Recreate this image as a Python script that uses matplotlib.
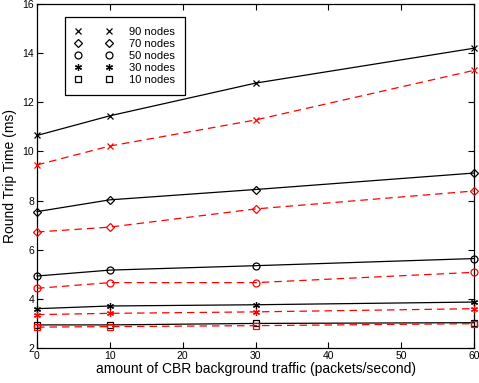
import matplotlib
matplotlib.use('Agg')
import matplotlib.pyplot as plt
from matplotlib.lines import Line2D
from matplotlib.legend_handler import HandlerTuple

plt.rcParams['font.family'] = ['Liberation Sans', 'DejaVu Sans']

traffic = [0, 10, 30, 60]

# black solid series
black_90 = [10.65, 11.45, 12.78, 14.2]
black_70 = [7.55, 8.03, 8.45, 9.12]
black_50 = [4.93, 5.17, 5.35, 5.64]
black_30 = [3.6, 3.71, 3.76, 3.87]
black_10 = [2.94, 2.94, 3.0, 3.03]

# red dashed series
red_90 = [9.45, 10.22, 11.28, 13.3]
red_70 = [6.72, 6.92, 7.66, 8.39]
red_50 = [4.43, 4.66, 4.66, 5.08]
red_30 = [3.36, 3.41, 3.47, 3.6]
red_10 = [2.85, 2.87, 2.91, 2.99]

labels = ['90 nodes', '70 nodes', '50 nodes', '30 nodes', '10 nodes']
markers = ['x', 'D', 'o', (6, 2, 0), 's']
msizes = [3.8, 4, 5, 5, 4]
black_series = [black_90, black_70, black_50, black_30, black_10]
red_series = [red_90, red_70, red_50, red_30, red_10]

fig = plt.figure(figsize=(4.79, 3.83), dpi=100)
ax = fig.add_axes([37 / 479, 35 / 383, 437 / 479, 344 / 383])

for ys, m, ms in zip(black_series, markers, msizes):
    ax.plot(traffic, ys, color='black', linestyle='-', linewidth=0.9,
            marker=m, markersize=ms, markerfacecolor='none', markeredgewidth=0.9,
            clip_on=False, zorder=3)
for ys, m, ms in zip(red_series, markers, msizes):
    ax.plot(traffic, ys, color='red', linestyle=(0, (6, 4)), linewidth=0.9,
            marker=m, markersize=ms, markerfacecolor='none', markeredgewidth=0.9,
            clip_on=False, zorder=3)

ax.set_xlim(0, 60)
ax.set_ylim(2, 16)
ax.set_xticks(range(0, 61, 10))
ax.set_yticks(range(2, 17, 2))
ax.tick_params(direction='in', top=True, right=True, labelsize=7.5, length=4, pad=2)
for s in ax.spines.values():
    s.set_linewidth(0.9)

ax.set_xlabel('amount of CBR background traffic (packets/second)', fontsize=10, labelpad=1)
ax.set_ylabel('Round Trip Time (ms)', fontsize=10, labelpad=4)

handles = []
for m, ms in zip(markers, msizes):
    h1 = Line2D([], [], color='black', linestyle='none', marker=m, markersize=ms,
                markerfacecolor='none', markeredgewidth=0.9)
    h2 = Line2D([], [], color='black', linestyle='none', marker=m, markersize=ms,
                markerfacecolor='none', markeredgewidth=0.9)
    handles.append((h1, h2))

leg = ax.legend(handles, labels, handler_map={tuple: HandlerTuple(ndivide=None, pad=2.25)},
                loc='upper left', bbox_to_anchor=(28 / 437, 1 - 13 / 344),
                fontsize=8, handlelength=3.33, handletextpad=1.55, labelspacing=0.18,
                borderpad=0.9, borderaxespad=0, fancybox=False, framealpha=1,
                edgecolor='black')
leg.get_frame().set_linewidth(0.9)

fig.savefig('out.png', dpi=100)
